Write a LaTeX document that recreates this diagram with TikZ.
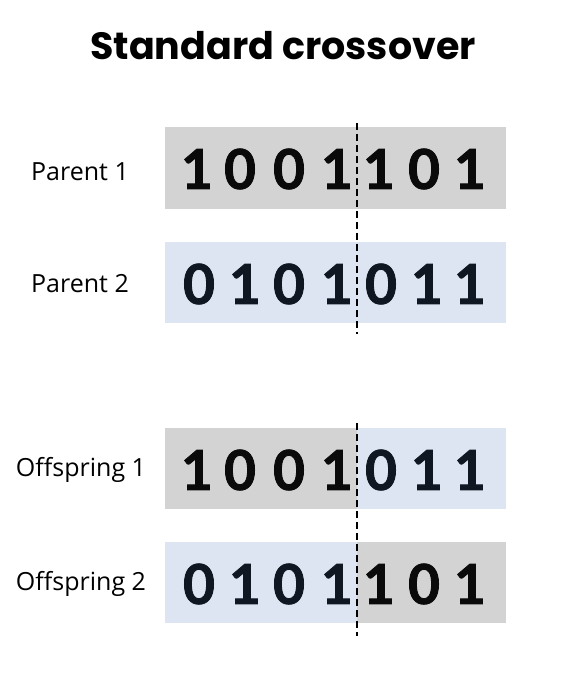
\documentclass[tikz,border=0pt]{standalone}
\usepackage{fontspec}
\setmainfont{Open Sans}
\newfontfamily\titlefont{Poppins}[UprightFont=* Bold]
\newfontfamily\digitfont{Lato}[BoldFeatures={FakeBold=1.6}]
\definecolor{graybox}{HTML}{D3D3D3}
\definecolor{bluebox}{HTML}{DCE5F1}
\definecolor{inkA}{HTML}{0A0A0A}
\definecolor{inkB}{HTML}{0E1722}
\tikzset{
  gbox/.style={fill=graybox, draw=none},
  bbox/.style={fill=bluebox, draw=none},
  bit/.style={font=\digitfont\bfseries\fontsize{55}{55}\selectfont, inner sep=0pt, anchor=center},
  lbl/.style={font=\fontsize{25}{25}\selectfont, anchor=center, text=black},
  cut/.style={draw=black, line width=1.9pt, dash pattern=on 7pt off 4pt}
}
\begin{document}
\begin{tikzpicture}[x=1pt,y=1pt]
\useasboundingbox (0,0) rectangle (567,-684);
\fill[white] (0,0) rectangle (567,-684);
\node[font=\titlefont\fontsize{38}{38}\selectfont] (title) at (283,-46) {Standard crossover};
% Parent 1
\fill[gbox] (165,-127) rectangle (357,-209);
\fill[gbox] (357,-127) rectangle (506,-209);
% Parent 2
\fill[bbox] (165,-242) rectangle (357,-323);
\fill[bbox] (357,-242) rectangle (506,-323);
% Offspring 1
\fill[gbox] (165,-428) rectangle (357,-509);
\fill[bbox] (357,-428) rectangle (506,-509);
% Offspring 2
\fill[bbox] (165,-542) rectangle (357,-623);
\fill[gbox] (357,-542) rectangle (506,-623);
\node[lbl] (p1) at (80,-172) {Parent 1};
\node[lbl] (p2) at (80,-284) {Parent 2};
\node[lbl] (o1) at (81,-470) {Offspring 1};
\node[lbl] (o2) at (81,-584) {Offspring 2};
\foreach \d [count=\i] in {1,0,0,1,1,0,1} {
  \pgfmathsetmacro{\xx}{{197,240,289,337,379,424,470}[\i-1]}
  \node[bit, text=inkA] (pa\i) at (\xx,-169) {\d};
}
\foreach \d [count=\i] in {0,1,0,1,0,1,1} {
  \pgfmathsetmacro{\xx}{{199,245,289,337,381,427,470}[\i-1]}
  \node[bit, text=inkB] (pb\i) at (\xx,-284) {\d};
}
\foreach \d [count=\i] in {1,0,0,1,0,1,1} {
  \pgfmathsetmacro{\xx}{{197,240,289,337,381,427,470}[\i-1]}
  \node[bit, text=\ifnum\i<5 inkA\else inkB\fi] (oa\i) at (\xx,-470) {\d};
}
\foreach \d [count=\i] in {0,1,0,1,1,0,1} {
  \pgfmathsetmacro{\xx}{{199,245,289,337,379,424,470}[\i-1]}
  \node[bit, text=\ifnum\i<5 inkB\else inkA\fi] (ob\i) at (\xx,-584) {\d};
}
\coordinate (c1) at (357,-123);
\coordinate (c2) at (357,-334);
\coordinate (c3) at (357,-423);
\coordinate (c4) at (357,-636);
\draw[cut] (c1) -- (c2);
\draw[cut] (c3) -- (c4);
\end{tikzpicture}
\end{document}
